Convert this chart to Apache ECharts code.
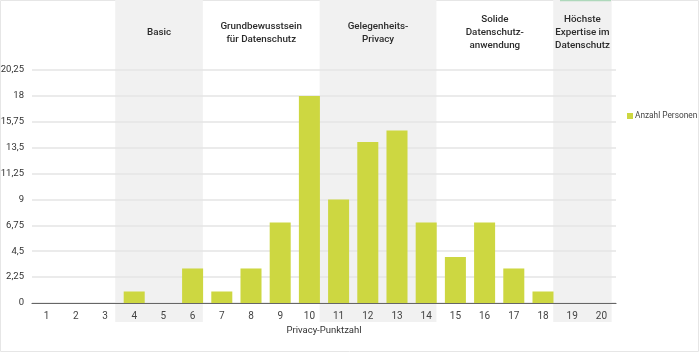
<!DOCTYPE html>
<html>
<head>
<meta charset="utf-8">
<script src="https://cdn.jsdelivr.net/npm/echarts@6/dist/echarts.min.js"></script>
<style>
  html, body { margin: 0; padding: 0; background: #fff; }
  #main { width: 700px; height: 352px; }
</style>
</head>
<body>
<div id="main"></div>
<script>
// Privacy-Punktzahl 1..20
var categories = ['1','2','3','4','5','6','7','8','9','10','11','12','13','14','15','16','17','18','19','20'];
var anzahlPersonen = [0, 0, 0, 1, 0, 3, 1, 3, 7, 18, 9, 14, 15, 7, 4, 7, 3, 1, 0, 0];
var yTicks = [0, 2.25, 4.5, 6.75, 9, 11.25, 13.5, 15.75, 18, 20.25];

// Stufen oben im Diagramm
var groupStart = ['4', '7', '11', '15', '19'];
var groupEnd = ['6', '10', '14', '18', '20'];
var groupShaded = [true, false, true, false, true];
var groupLabels = [
    'Basic',
    'Grundbewusstsein\nfür Datenschutz',
    'Gelegenheits-\nPrivacy',
    'Solide\nDatenschutz-\nanwendung',
    'Höchste\nExpertise im\nDatenschutz'
];

var FONT = 'Roboto';
var chartDom = document.getElementById('main');
var myChart = echarts.init(chartDom);

function renderGroup(params, api) {
    var i = params.dataIndex;
    var bw = api.size([1, 0])[0];
    var s = api.coord([categories.indexOf(groupStart[i]), 0]);
    var e = api.coord([categories.indexOf(groupEnd[i]), 0]);
    // bands in the original sit a half bar gap to the left
    var off = bw * 0.15;
    var x0 = s[0] - bw / 2 - off;
    var x1 = e[0] + bw / 2 - off;
    var children = [];
    if (groupShaded[i]) {
        children.push({
            type: 'rect',
            shape: { x: x0, y: 0, width: x1 - x0, height: s[1] + 19 },
            style: { fill: '#f1f1f1' }
        });
    }
    children.push({
        type: 'text',
        x: (x0 + x1) / 2,
        y: 33,
        style: {
            text: groupLabels[i],
            fill: '#2b2b2b',
            font: '500 9.8px ' + FONT,
            lineHeight: 13,
            align: 'center',
            verticalAlign: 'middle'
        }
    });
    return { type: 'group', children: children };
}

var option = {
    animation: false,
    textStyle: { fontFamily: FONT },
    grid: { left: 32, right: 84, top: 70, bottom: 49, containLabel: false, outerBoundsMode: 'none' },
    legend: {
        data: ['Anzahl Personen'],
        orient: 'vertical',
        left: 622,
        top: 107,
        itemWidth: 6,
        itemHeight: 6,
        itemGap: 4,
        icon: 'rect',
        textStyle: { fontSize: 8.3, color: '#444', fontFamily: FONT, padding: [0, 0, 0, -3] }
    },
    graphic: [
        { type: 'rect', shape: { x: 0.5, y: 0.5, width: 698, height: 351 },
          style: { fill: 'none', stroke: '#e6e6e6', lineWidth: 1 }, z: -10 },
        { type: 'line', shape: { x1: 560, y1: 0.5, x2: 611, y2: 0.5 },
          style: { stroke: '#aed8bb', lineWidth: 1.5 } }
    ],
    xAxis: {
        type: 'category',
        data: categories,
        name: 'Privacy-Punktzahl',
        nameLocation: 'middle',
        nameGap: 23,
        nameTextStyle: { fontSize: 9.5, color: '#333', fontFamily: FONT },
        axisLine: { lineStyle: { color: '#666', width: 1.2 } },
        axisTick: { show: false },
        axisLabel: { fontSize: 10, color: '#444', margin: 8, fontFamily: FONT }
    },
    yAxis: {
        type: 'value',
        min: yTicks[0],
        max: yTicks[yTicks.length - 1],
        interval: yTicks[1] - yTicks[0],
        axisLine: { show: false },
        axisTick: { show: false },
        axisLabel: {
            fontSize: 9.5, color: '#333', margin: 8, fontFamily: FONT,
            formatter: function (v) { return String(v).replace('.', ','); }
        },
        splitLine: { lineStyle: { color: '#e4e4e4', width: 1.5 } }
    },
    series: [
        {
            type: 'custom',
            name: 'stufen',
            silent: true,
            z: -1,
            clip: false,
            renderItem: renderGroup,
            data: groupLabels.map(function (l, i) { return [categories.indexOf(groupStart[i]), 0]; }),
            encode: { x: 0, y: 1 }
        },
        {
            name: 'Anzahl Personen',
            type: 'bar',
            barCategoryGap: '28%',
            itemStyle: { color: '#cdd741' },
            data: anzahlPersonen
        }
    ]
};

option && myChart.setOption(option);
</script>
</body>
</html>
